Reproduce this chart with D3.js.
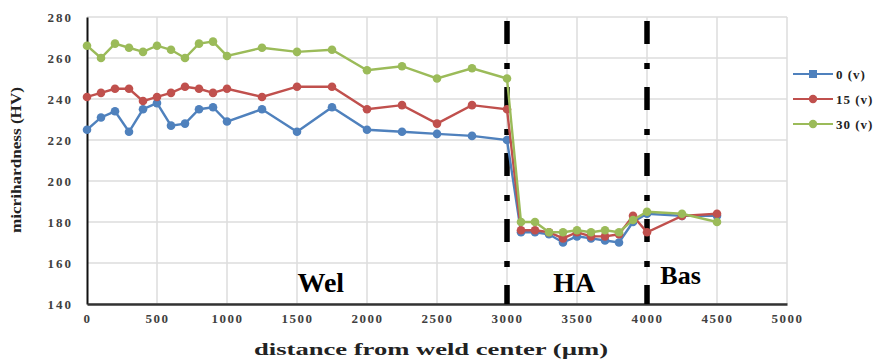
<!DOCTYPE html>
<html>
<head>
<meta charset="utf-8">
<script src="https://cdn.jsdelivr.net/npm/d3@7/dist/d3.min.js"></script>
<style>
  body { margin: 0; background: #fff; }
  text { font-family: "Liberation Serif", "Times New Roman", serif; font-weight: bold; }
</style>
</head>
<body>
<script>
var distance = [0, 100, 200, 300, 400, 500, 600, 700, 800, 900, 1000, 1250, 1500, 1750, 2000, 2250, 2500, 2750, 3000,
  3100, 3200, 3300, 3400, 3500, 3600, 3700, 3800, 3900, 4000, 4250, 4500];

var v0 = [225, 231, 234, 224, 235, 238, 227, 228, 235, 236, 229, 235, 224, 236, 225, 224, 223, 222, 220,
  175, 175, 174, 170, 173, 172, 171, 170, 180, 184, 183, 183];
var v15 = [241, 243, 245, 245, 239, 241, 243, 246, 245, 243, 245, 241, 246, 246, 235, 237, 228, 237, 235,
  176, 176, 175, 172, 175, 173, 173, 174, 183, 175, 183, 184];
var v30 = [266, 260, 267, 265, 263, 266, 264, 260, 267, 268, 261, 265, 263, 264, 254, 256, 250, 255, 250,
  180, 180, 175, 175, 176, 175, 176, 175, 181, 185, 184, 180];

var seriesNames = ['0 (v)', '15 (v)', '30 (v)'];
var colours = ['#4f81bd', '#c0504d', '#9bbb59'];
var xTicks = [0, 500, 1000, 1500, 2000, 2500, 3000, 3500, 4000, 4500, 5000];
var yTicks = [140, 160, 180, 200, 220, 240, 260, 280];
var zoneLines = [3000, 4000];
var zoneLabels = [['Wel', 1670], ['HA', 3480], ['Bas', 4240]];

var series = [v0, v15, v30];

var svg = d3.select(document.body)
  .append('svg')
  .attr('width', 880).attr('height', 360);

var x = d3.scaleLinear().domain([0, 5000]).range([87, 787]);
var y = d3.scaleLinear().domain([140, 280]).range([304, 17]);

// grid
svg.append('g').selectAll('line')
  .data(yTicks).enter().append('line')
  .attr('x1', 87).attr('x2', 787)
  .attr('y1', d => y(d)).attr('y2', d => y(d))
  .style('stroke', '#dcdcdc').style('stroke-width', 1.5);

svg.append('g').selectAll('line')
  .data(xTicks.slice(1)).enter().append('line')
  .attr('x1', d => x(d)).attr('x2', d => x(d))
  .attr('y1', 17).attr('y2', 304)
  .style('stroke', '#dcdcdc').style('stroke-width', 1.5);

// axes
var yAxis = svg.append('g')
  .attr('transform', 'translate(87,0)')
  .call(d3.axisLeft(y).tickValues(yTicks).tickSize(0).tickPadding(14));
yAxis.select('.domain').style('stroke', '#111').style('stroke-width', 2);
yAxis.selectAll('text').style('font-size', '13px').style('letter-spacing', '2px')
  .style('fill', '#404040').style('font-family', '"Liberation Serif", serif');

var xAxis = svg.append('g')
  .attr('transform', 'translate(0,304)')
  .call(d3.axisBottom(x).tickValues(xTicks).tickSize(0).tickPadding(10).tickFormat(d3.format('d')));
xAxis.select('.domain').style('stroke', '#333').style('stroke-width', 2.5);
xAxis.selectAll('text').style('font-size', '13px').style('letter-spacing', '1.5px')
  .style('fill', '#404040').style('font-family', '"Liberation Serif", serif');

// zone separators
svg.append('g').selectAll('line')
  .data(zoneLines).enter().append('line')
  .attr('x1', d => x(d)).attr('x2', d => x(d))
  .attr('y1', 21).attr('y2', 304)
  .style('stroke', '#000').style('stroke-width', 5.5)
  .style('stroke-dasharray', '23,19,6,18');

// series
var line = d3.line()
  .x((d, i) => x(distance[i]))
  .y(d => y(d));

series.forEach(function(vals, s) {
  svg.append('path')
    .datum(vals)
    .attr('d', line)
    .style('fill', 'none')
    .style('stroke', colours[s])
    .style('stroke-width', 2.4);
  svg.append('g').selectAll('circle')
    .data(vals).enter().append('circle')
    .attr('cx', (d, i) => x(distance[i]))
    .attr('cy', d => y(d))
    .attr('r', 4.3)
    .style('fill', colours[s]);
});

// zone labels
svg.append('g').selectAll('text')
  .data(zoneLabels).enter().append('text')
  .attr('x', d => x(d[1]))
  .attr('y', d => d[0] === 'Bas' ? 284 : 292)
  .attr('text-anchor', 'middle')
  .style('font-size', d => d[0] === 'Bas' ? '26px' : '28px')
  .style('fill', '#000')
  .text(d => d[0]);

// legend
var legend = svg.append('g');
seriesNames.forEach(function(name, i) {
  var ly = 74 + i * 25;
  legend.append('line')
    .attr('x1', 793).attr('x2', 833).attr('y1', ly).attr('y2', ly)
    .style('stroke', colours[i]).style('stroke-width', 2.2);
  if (i === 0) {
    legend.append('rect')
      .attr('x', 809).attr('y', ly - 4).attr('width', 8).attr('height', 8)
      .style('fill', colours[i]);
  } else {
    legend.append('circle')
      .attr('cx', 813).attr('cy', ly).attr('r', 4.2)
      .style('fill', colours[i]);
  }
  legend.append('text')
    .attr('x', 836).attr('y', ly + 4.5)
    .style('font-size', '13px').style('letter-spacing', '1px')
    .style('fill', '#222')
    .text(name);
});

// axis titles
svg.append('text')
  .attr('x', 254).attr('y', 355)
  .attr('textLength', 354).attr('lengthAdjust', 'spacingAndGlyphs')
  .style('font-size', '16px').style('fill', '#222')
  .text('distance from weld center (\u00b5m)');

svg.append('text')
  .attr('transform', 'translate(21,160) rotate(-90)')
  .attr('text-anchor', 'middle')
  .attr('textLength', 146).attr('lengthAdjust', 'spacingAndGlyphs')
  .style('font-size', '15px').style('fill', '#222')
  .text('micrihardness (HV)');
</script>
</body>
</html>
